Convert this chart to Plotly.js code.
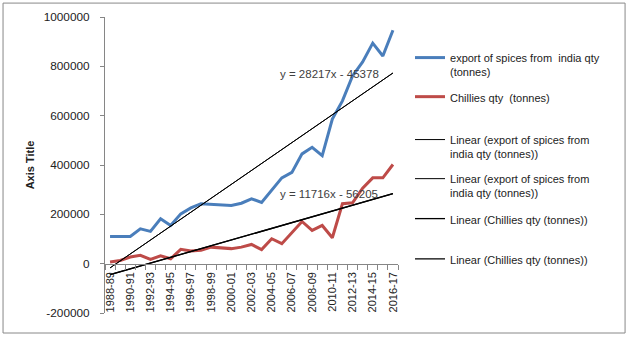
<!DOCTYPE html>
<html>
<head>
<meta charset="utf-8">
<script src="https://cdn.plot.ly/plotly-3.0.1.min.js"></script>
<style>
  html, body { margin: 0; padding: 0; background: #ffffff; }
  #chart { width: 629px; height: 337px; }
</style>
</head>
<body>
<div id="chart"></div>
<script>
// ---- data ----
const years = [
  "1988-89","1989-90","1990-91","1991-92","1992-93","1993-94","1994-95","1995-96",
  "1996-97","1997-98","1998-99","1999-00","2000-01","2001-02","2002-03","2003-04",
  "2004-05","2005-06","2006-07","2007-08","2008-09","2009-10","2010-11","2011-12",
  "2012-13","2013-14","2014-15","2015-16","2016-17"
];
const spicesExport = [
  110000, 110000, 110000, 141000, 131000, 182000, 155000, 202000,
  226000, 243000, 240000, 236000, 236000, 245000, 263000, 248000,
  296000, 348000, 370000, 445000, 472000, 438000, 586000, 660000,
  761000, 818000, 894000, 842000, 946000
];
const chilliesExport = [
  7000, 13000, 27000, 34000, 17000, 32000, 20000, 58000,
  51000, 54000, 67000, 65000, 61000, 67000, 78000, 57000,
  101000, 81000, 128000, 171000, 135000, 155000, 105000, 243000,
  247000, 306000, 348000, 348000, 402000
];
// trendline equations shown on the chart (x = 1 .. n)
const spicesSlope = 28217, spicesIntercept = -45378;
const chilliesSlope = 11716, chilliesIntercept = -56205;
const spicesEqText = "y = 28217x - 45378";
const chilliesEqText = "y = 11716x - 56205";

const yTickVals = [-200000, 0, 200000, 400000, 600000, 800000, 1000000];
const yTickText = ["-200000", "0", "200000", "400000", "600000", "800000", "1000000"];

const nameSpices = "export of spices from  india qty<br>(tonnes)";
const nameChillies = "Chillies qty  (tonnes)";
const nameTrendSpices = "Linear (export of spices from<br>india qty (tonnes))";
const nameTrendChillies = "Linear (Chillies qty (tonnes))";

// ---- build ----
const n = years.length;
const trendX = [years[0], years[n - 1]];
const trendSpicesY = [spicesSlope * 1 + spicesIntercept, spicesSlope * n + spicesIntercept];
const trendChilliesY = [chilliesSlope * 1 + chilliesIntercept, chilliesSlope * n + chilliesIntercept];

const FONT = "Liberation Sans, Arial, sans-serif";

const traces = [
  { x: years, y: spicesExport, type: "scatter", mode: "lines", name: nameSpices,
    line: { color: "#4A7EBB", width: 3 }, legend: "legend" },
  { x: years, y: chilliesExport, type: "scatter", mode: "lines", name: nameChillies,
    line: { color: "#BE4B48", width: 3 }, legend: "legend2" },
  { x: trendX, y: trendSpicesY, type: "scatter", mode: "lines", name: nameTrendSpices,
    line: { color: "#000000", width: 1 }, legend: "legend3" },
  { x: trendX, y: trendSpicesY, type: "scatter", mode: "lines", name: nameTrendSpices,
    line: { color: "#000000", width: 1 }, legend: "legend4" },
  { x: trendX, y: trendChilliesY, type: "scatter", mode: "lines", name: nameTrendChillies,
    line: { color: "#000000", width: 1.3 }, legend: "legend5" },
  { x: trendX, y: trendChilliesY, type: "scatter", mode: "lines", name: nameTrendChillies,
    line: { color: "#000000", width: 1.3 }, legend: "legend6" }
];

function leg(yTop) {
  return { x: 1.041, xanchor: "left", y: yTop, yanchor: "top", valign: "top",
    bgcolor: "rgba(0,0,0,0)", font: { family: FONT, size: 11, color: "#222" },
    itemclick: false, itemdoubleclick: false };
}

const layout = {
  width: 629, height: 337,
  margin: { l: 105, r: 231, t: 17, b: 24, pad: 0 },
  paper_bgcolor: "#ffffff", plot_bgcolor: "#ffffff",
  font: { family: FONT, size: 11, color: "#222" },
  showlegend: true,
  legend: leg(0.909), legend2: leg(0.777), legend3: leg(0.632),
  legend4: leg(0.500), legend5: leg(0.365), legend6: leg(0.229),
  xaxis: {
    type: "category", range: [-0.5, n - 0.5], anchor: "free", position: 1 / 6,
    tickmode: "array", tickvals: years,
    ticktext: years.map((c, i) => (i % 2 === 0 ? c : "")),
    tickson: "boundaries", ticks: "outside", ticklen: 5, tickcolor: "#868686",
    ticklabelstandoff: 3,
    tickangle: -90, tickfont: { family: FONT, size: 11, color: "#222" },
    showline: true, linecolor: "#868686", linewidth: 1,
    showgrid: false, zeroline: false, fixedrange: true
  },
  yaxis: {
    range: [-200000, 1000000], tickmode: "array", tickvals: yTickVals, ticktext: yTickText,
    ticks: "outside", ticklen: 4, tickcolor: "#868686", ticklabelstandoff: 8,
    tickfont: { family: FONT, size: 11.8, color: "#222" },
    showline: true, linecolor: "#868686", linewidth: 1,
    showgrid: false, zeroline: false, fixedrange: true,
    title: { text: "<b>Axis Title</b>", font: { family: FONT, size: 11, color: "#222" }, standoff: 6 }
  },
  annotations: [
    { xref: "paper", yref: "paper", x: 0.765, y: 0.807, xanchor: "center", yanchor: "middle",
      text: spicesEqText, showarrow: false,
      font: { family: FONT, size: 11.5, color: "#404040" } },
    { xref: "paper", yref: "paper", x: 0.765, y: 0.402, xanchor: "center", yanchor: "middle",
      text: chilliesEqText, showarrow: false,
      font: { family: FONT, size: 11.5, color: "#404040" } }
  ],
  shapes: [
    { type: "rect", xref: "paper", yref: "paper", x0: -0.348, x1: 1.775, y0: -0.0676, y1: 1.047,
      line: { color: "#888888", width: 1 }, fillcolor: "rgba(0,0,0,0)", layer: "below" }
  ]
};

Plotly.newPlot("chart", traces, layout, { staticPlot: true, displayModeBar: false });
</script>
</body>
</html>
